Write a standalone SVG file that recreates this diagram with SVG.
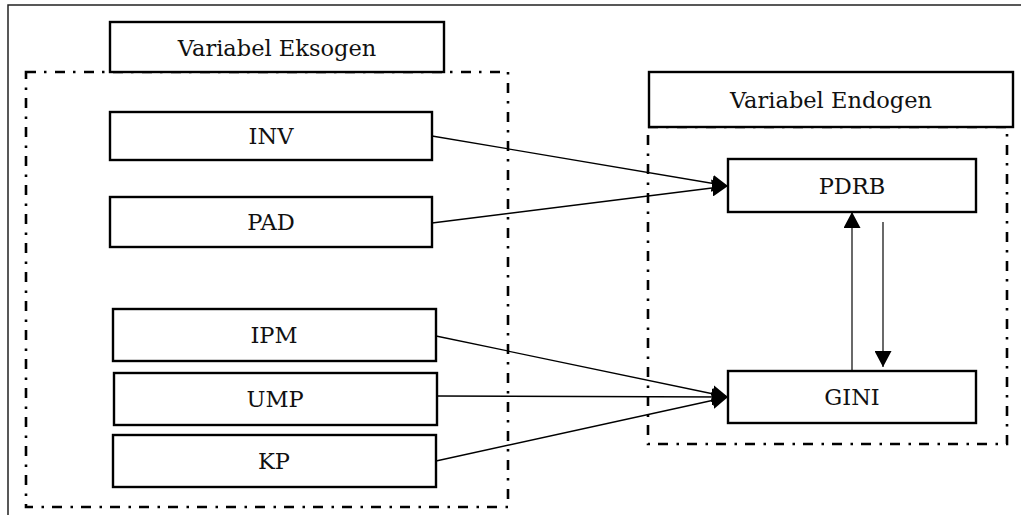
<svg xmlns="http://www.w3.org/2000/svg" width="1021" height="515" viewBox="0 0 1021 515">
<style>
.frame{fill:none;stroke:#222;stroke-width:1.5}
.group{fill:none;stroke:#000;stroke-width:2.6;stroke-dasharray:10 8 2.5 8.5}
.box{fill:#fff;stroke:#000;stroke-width:2.4}
.lbl{font-family:"DejaVu Serif","Liberation Serif",serif;font-size:22.5px;fill:#111;text-anchor:middle}
.conn{fill:none;stroke:#000;stroke-width:1.3}
.conn2{fill:none;stroke:#444;stroke-width:1.6}
</style>
<defs>
<marker id="ah" viewBox="0 0 16 17" refX="16" refY="8.5" markerWidth="16" markerHeight="17" markerUnits="userSpaceOnUse" orient="auto">
<path d="M0,0 L16,8.5 L0,17 Z" fill="#000"/>
</marker>
</defs>
<rect width="1021" height="515" fill="#fff"/>
<rect class="frame" x="8" y="5" width="1030" height="530"/>
<g id="exo-group">
<rect class="group" x="26" y="72" width="482" height="435"/>
</g>
<g id="endo-group">
<rect class="group" x="648" y="127" width="359" height="317"/>
</g>
<g id="label-eksogen">
<rect class="box" x="110" y="22" width="334" height="50"/>
<text class="lbl" x="277" y="56">Variabel Eksogen</text>
</g>
<g id="label-endogen">
<rect class="box" x="649" y="72" width="364" height="55"/>
<text class="lbl" x="831" y="108">Variabel Endogen</text>
</g>
<g id="connectors">
<line class="conn" x1="432" y1="136" x2="728" y2="186" marker-end="url(#ah)"/>
<line class="conn" x1="432" y1="223" x2="728" y2="186" marker-end="url(#ah)"/>
<line class="conn" x1="436" y1="336" x2="728" y2="397" marker-end="url(#ah)"/>
<line class="conn" x1="437" y1="396" x2="728" y2="397" marker-end="url(#ah)"/>
<line class="conn" x1="436" y1="461" x2="728" y2="397" marker-end="url(#ah)"/>
<line class="conn2" x1="852" y1="371" x2="852" y2="212" marker-end="url(#ah)"/>
<line class="conn2" x1="883" y1="222" x2="883" y2="367" marker-end="url(#ah)"/>
</g>
<g id="INV">
<rect class="box" x="110" y="112" width="322" height="48"/>
<text class="lbl" x="271" y="144">INV</text>
</g>
<g id="PAD">
<rect class="box" x="110" y="197" width="322" height="50"/>
<text class="lbl" x="271" y="230">PAD</text>
</g>
<g id="IPM">
<rect class="box" x="113" y="309" width="323" height="52"/>
<text class="lbl" x="274" y="343">IPM</text>
</g>
<g id="UMP">
<rect class="box" x="114" y="373" width="323" height="52"/>
<text class="lbl" x="275" y="407">UMP</text>
</g>
<g id="KP">
<rect class="box" x="113" y="435" width="323" height="52"/>
<text class="lbl" x="274" y="469">KP</text>
</g>
<g id="PDRB">
<rect class="box" x="728" y="159" width="248" height="53"/>
<text class="lbl" x="852" y="194">PDRB</text>
</g>
<g id="GINI">
<rect class="box" x="728" y="371" width="248" height="52"/>
<text class="lbl" x="852" y="405">GINI</text>
</g>
</svg>
